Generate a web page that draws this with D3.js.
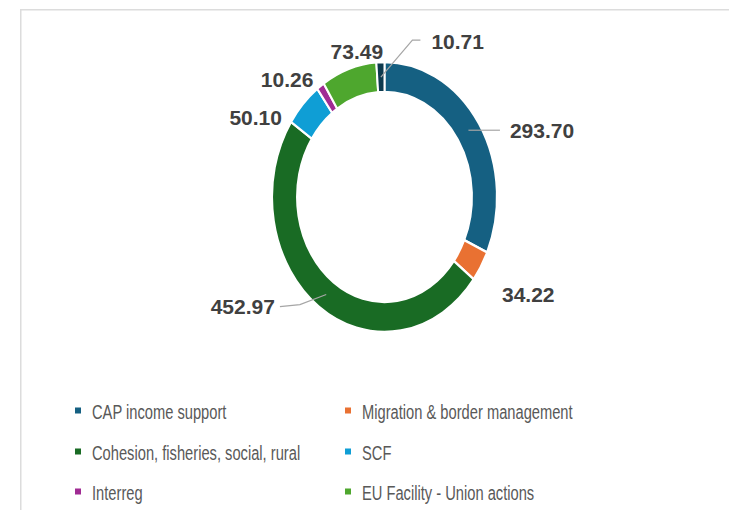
<!DOCTYPE html>
<html>
<head>
<meta charset="utf-8">
<script src="https://cdn.jsdelivr.net/npm/d3@7"></script>
<style>
  body{margin:0;background:#fff}
  svg{display:block}
</style>
</head>
<body>
<div id="chart"></div>
<script>
// data (clockwise from 12 o'clock)
const categories = ["CAP income support","Migration & border management","Cohesion, fisheries, social, rural","SCF","Interreg","EU Facility - Union actions","Other"]
const values = [293.70,34.22,452.97,50.10,10.26,73.49,10.71]
const valueLabels = ["293.70","34.22","452.97","50.10","10.26","73.49","10.71"]
const colors = ["#156082","#E97132","#196B24","#0F9ED5","#A02B93","#4EA72E","#0D3A4E"]
const legendCount = 6

// where each data label sits, relative to the slice's outer edge
const labelLayout = [
  {dx:31, dy:6.5, anchor:"start", leader:"flat"},
  {dx:21, dy:28.5, anchor:"start"},
  {dx:-44, dy:0, anchor:"end", leader:"bend"},
  {dx:-21, dy:13, anchor:"end"},
  {dx:-7, dy:-7, anchor:"end"},
  {dx:8, dy:-18, anchor:"middle"},
  {dx:51, dy:-20.5, anchor:"start", leader:"elbow"}
]

drawChart("#chart")

function drawChart(id){
  const canvas = createCanvas()
  const svg = d3.select(id).append("svg")
    .attr("width",canvas.width).attr("height",canvas.height)

  addFrame(svg,canvas)
  const slices = addDonut(svg,canvas)
  addLabels(svg,canvas,slices)
  addLegend(svg)
}

function createCanvas(){
  return {width:729, height:510, cx:384.5, cy:197, outer:135, inner:105, sx:0.833}
}

function addFrame(svg,canvas){
  svg.append("path")
    .attr("d",`M${canvas.width},9.75 H20.75 V${canvas.height}`)
    .attr("fill","none").attr("stroke","#dcdcdc").attr("stroke-width",1.5)
}

function addDonut(svg,canvas){
  const pie = d3.pie().sort(null).value(d => d.value)
  const data = values.map((v,i) => ({value:v, color:colors[i], label:valueLabels[i]}))
  const slices = pie(data)

  const arc = d3.arc().innerRadius(canvas.inner).outerRadius(canvas.outer)

  svg.append("g")
    .attr("transform",`translate(${canvas.cx},${canvas.cy}) scale(${canvas.sx},1)`)
    .selectAll("path").data(slices).enter()
    .append("path")
    .attr("d",arc)
    .attr("fill",d => d.data.color)
    .attr("stroke","#fff").attr("stroke-width",2.4)

  return slices
}

function ellipsePoint(canvas,angle,r){
  return [canvas.cx + canvas.sx*r*Math.sin(angle), canvas.cy - r*Math.cos(angle)]
}

function addLabels(svg,canvas,slices){
  const midR = (canvas.inner + canvas.outer)/2
  const line = d3.line()

  slices.forEach((s,i) => {
    const lay = labelLayout[i]
    const mid = (s.startAngle + s.endAngle)/2
    const base = ellipsePoint(canvas,mid,canvas.outer)
    const tx = base[0] + lay.dx
    const ty = base[1] + lay.dy
    const m = ellipsePoint(canvas,mid,midR)

    let pts = null
    if(lay.leader === "flat") pts = [[m[0],ty],[tx-10,ty]]
    if(lay.leader === "bend") pts = [m,[tx+25,ty-2],[tx+5,ty]]
    if(lay.leader === "elbow") pts = [m,[tx-19,ty-1.5],[tx-11,ty-1.5]]
    if(pts){
      svg.append("path").attr("d",line(pts))
        .attr("fill","none").attr("stroke","#a6a6a6").attr("stroke-width",1.2)
    }

    svg.append("text")
      .attr("x",tx).attr("y",ty).attr("dy","0.36em")
      .attr("text-anchor",lay.anchor)
      .attr("font-family","'Liberation Sans', Arial, sans-serif")
      .attr("font-weight","bold").attr("font-size","21px")
      .attr("fill","#404040")
      .text(s.data.label)
  })
}

function addLegend(svg){
  const cols = [75,345]
  const rows = [411,452,492]
  const squeeze = 0.70

  const items = categories.slice(0,legendCount).map((c,i) => ({name:c, color:colors[i], col:i%2, row:Math.floor(i/2)}))

  const g = svg.append("g").selectAll("g").data(items).enter().append("g")
    .attr("transform",d => `translate(${cols[d.col]},${rows[d.row]})`)

  g.append("rect").attr("x",0).attr("y",-3.5).attr("width",6).attr("height",6)
    .attr("fill",d => d.color)

  g.append("text")
    .attr("transform",`translate(17,0) scale(${squeeze},1)`)
    .attr("dy","0.36em")
    .attr("font-family","'Liberation Sans', Arial, sans-serif")
    .attr("font-size","21px").attr("fill","#595959")
    .text(d => d.name)
}
</script>
</body>
</html>
